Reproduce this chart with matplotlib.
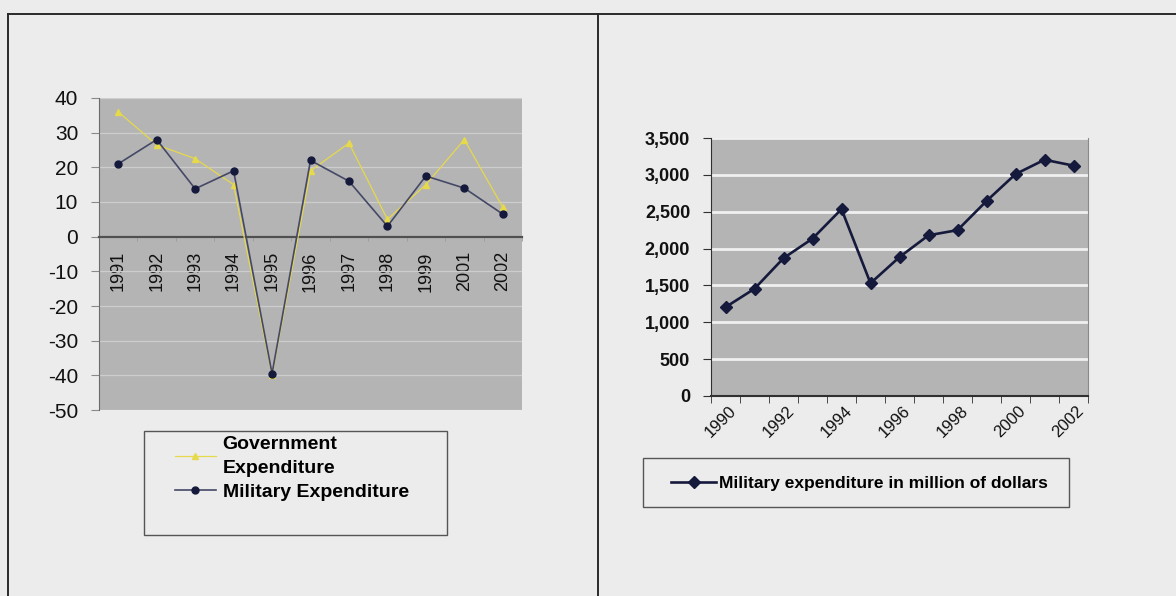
import matplotlib
matplotlib.use("Agg")
import matplotlib.pyplot as plt
from matplotlib.lines import Line2D
from matplotlib.patches import Rectangle
from matplotlib.ticker import StrMethodFormatter, FixedLocator
from matplotlib.transforms import ScaledTranslation
import numpy as np

plt.rcParams['font.family'] = ['Liberation Sans', 'DejaVu Sans']
plt.rcParams['axes.unicode_minus'] = False

# Left chart: growth rates (%)
years_left = ['1991', '1992', '1993', '1994', '1995', '1996', '1997', '1998', '1999', '2001', '2002']
gov_exp = [36, 26.5, 22.5, 15, -40, 19, 27, 5, 15, 28, 8.5]
mil_exp = [21, 28, 13.8, 19, -39.5, 22, 16, 3, 17.5, 14, 6.5]
left_yticks = [-50, -40, -30, -20, -10, 0, 10, 20, 30, 40]

# Right chart: military expenditure in million of dollars
years_right = [1990, 1991, 1992, 1993, 1994, 1995, 1996, 1997, 1998, 1999, 2000, 2001, 2002]
mil_dollars = [1205, 1455, 1870, 2135, 2535, 1530, 1885, 2180, 2250, 2645, 3010, 3205, 3125]
right_yticks = [0, 500, 1000, 1500, 2000, 2500, 3000, 3500]

W, H = 1176, 596
PAGE = '#ececec'
PLOT_BG = '#b4b4b4'
NAVY = '#151a3c'
YELLOW = '#e6d94a'


def fx(x):
    return x / W


def fy(y):
    return 1 - y / H


fig = plt.figure(figsize=(W / 100, H / 100), dpi=100)
fig.patch.set_facecolor(PAGE)

# page frame lines
frame = dict(color='#2a2a2a', lw=1.4)
fig.add_artist(Line2D([fx(8), 1], [fy(14), fy(14)], **frame))
fig.add_artist(Line2D([fx(8), fx(8)], [0, fy(14)], **frame))
fig.add_artist(Line2D([fx(598), fx(598)], [0, fy(14)], **frame))

# ---------- left chart ----------
ax1 = fig.add_axes([fx(99), fy(410), 423 / W, 312 / H])
ax1.set_facecolor(PLOT_BG)
xl = np.arange(len(years_left))
ax1.plot(xl, gov_exp, color=YELLOW, lw=0.9, marker='^', ms=4.5,
         mfc=YELLOW, mec=YELLOW, label='Government\nExpenditure', zorder=3)
ax1.plot(xl, mil_exp, color='#454866', lw=1.2, marker='o', ms=5,
         mfc=NAVY, mec=NAVY, label='Military Expenditure', zorder=4)
ax1.set_xlim(-0.5, len(years_left) - 0.5)
ax1.set_ylim(-50, 40)
ax1.set_yticks(left_yticks)
ax1.yaxis.grid(True, color='#cdcdcd', lw=0.9)
ax1.set_axisbelow(True)
for s in ['top', 'right']:
    ax1.spines[s].set_visible(False)
ax1.spines['left'].set_color('#6a6a6a')
ax1.spines['bottom'].set_position(('data', 0))
ax1.spines['bottom'].set_color('#505050')
ax1.spines['bottom'].set_linewidth(1.6)
ax1.set_xticks(xl)
ax1.set_xticklabels(years_left, rotation=90, fontsize=13, color='#111111')
ax1.xaxis.set_minor_locator(FixedLocator(np.arange(-0.5, len(years_left), 1)))
ax1.tick_params(axis='x', which='major', length=0, pad=10.5)
ax1.tick_params(axis='x', which='minor', length=3, color='#9a9a9a', direction='out')
ax1.tick_params(axis='y', length=6, color='#8a8a8a', pad=9, labelsize=15, labelcolor='#111111')
for lab in ax1.get_xticklabels():
    lab.set_va('top')

fig.add_artist(Rectangle((fx(144), fy(535)), 303 / W, 104 / H, transform=fig.transFigure,
                         facecolor='none', edgecolor='#555555', lw=1))
leg1 = fig.legend(*ax1.get_legend_handles_labels(), loc='upper left',
                  bbox_to_anchor=(fx(175), fy(436)), frameon=False, borderpad=0,
                  borderaxespad=0, handlelength=2.1, handletextpad=0.35, labelspacing=0.3,
                  prop=dict(family='Liberation Sans', weight='bold', size=14))
for t in leg1.get_texts():
    t.set_linespacing(1.55)

# ---------- right chart ----------
ax2 = fig.add_axes([fx(711), fy(396), 377 / W, 258 / H])
ax2.set_facecolor(PLOT_BG)
xr = np.arange(len(years_right))
ax2.plot(xr, mil_dollars, color=NAVY, lw=1.9, marker='D', ms=6.5,
         mfc=NAVY, mec=NAVY, label='Military expenditure in million of dollars', zorder=3)
ax2.set_xlim(-0.5, len(years_right) - 0.5)
ax2.set_ylim(0, 3500)
ax2.set_yticks(right_yticks)
ax2.yaxis.set_major_formatter(StrMethodFormatter('{x:,.0f}'))
ax2.yaxis.grid(True, color='#f0f0f0', lw=2)
ax2.set_axisbelow(True)
ax2.spines['top'].set_visible(False)
ax2.spines['right'].set_color('#8a8a8a')
ax2.spines['right'].set_linewidth(0.8)
ax2.spines['left'].set_color('#303030')
ax2.spines['bottom'].set_color('#303030')
ax2.spines['bottom'].set_linewidth(1.5)
shown = xr[::2]
ax2.set_xticks(shown)
ax2.set_xticklabels([str(years_right[i]) for i in shown], rotation=45,
                    ha='right', va='center', rotation_mode='anchor', fontsize=12, color='#111111')
ax2.xaxis.set_minor_locator(FixedLocator(np.arange(-0.5, len(years_right), 1)))
ax2.tick_params(axis='x', which='major', length=0, pad=9)
ax2.tick_params(axis='x', which='minor', length=5, color='#303030')
ax2.tick_params(axis='y', length=6, color='#303030', pad=9, labelsize=13, labelcolor='#111111')
for lab in ax2.get_yticklabels():
    lab.set_fontweight('bold')
shift = ScaledTranslation(0.08, 0, fig.dpi_scale_trans)
for lab in ax2.get_xticklabels():
    lab.set_transform(lab.get_transform() + shift)

fig.add_artist(Rectangle((fx(643), fy(507)), 426 / W, 49 / H, transform=fig.transFigure,
                         facecolor='none', edgecolor='#555555', lw=1))
fig.legend(*ax2.get_legend_handles_labels(), loc='center left',
           bbox_to_anchor=(fx(671), fy(483)), frameon=False, borderpad=0,
           borderaxespad=0, handlelength=2.6, handletextpad=0.15,
           prop=dict(family='Liberation Sans', weight='bold', size=12.5))

fig.savefig('out.png', dpi=100, facecolor=fig.get_facecolor())
